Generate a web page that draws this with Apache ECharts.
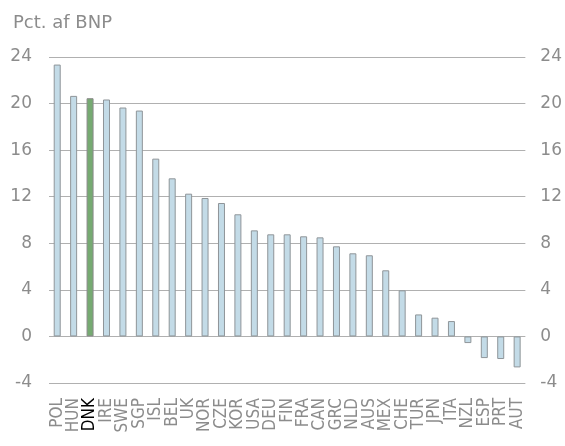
<!DOCTYPE html>
<html><head><meta charset="utf-8">
<script src="https://cdn.jsdelivr.net/npm/echarts@6/dist/echarts.min.js"></script>
<style>html,body{margin:0;padding:0;background:#fff}#c{width:565px;height:446px}</style>
</head><body><div id="c"></div>
<script>
var categories = ['POL','HUN','DNK','IRE','SWE','SGP','ISL','BEL','UK','NOR','CZE','KOR','USA','DEU','FIN','FRA','CAN','GRC','NLD','AUS','MEX','CHE','TUR','JPN','ITA','NZL','ESP','PRT','AUT'];
var values = [23.35,20.66,20.46,20.35,19.66,19.4,15.27,13.58,12.26,11.89,11.46,10.49,9.11,8.77,8.77,8.6,8.51,7.74,7.14,6.97,5.68,3.96,1.89,1.61,1.32,-0.57,-1.86,-1.94,-2.66];
var highlight = 'DNK';
var yTicks = [-4,0,4,8,12,16,20,24];
var unitLabel = 'Pct. af BNP';

var wideFont = 'DejaVu Sans, Liberation Sans, sans-serif';
var narrowFont = 'Liberation Sans Narrow, DejaVu Sans Condensed, Liberation Sans, sans-serif';
var grey = '#8c8c8c';
var chart = echarts.init(document.getElementById('c'));
var yAxisBase = {
  type: 'value', min: yTicks[0], max: yTicks[yTicks.length - 1], interval: yTicks[1] - yTicks[0],
  axisLine: {show: false}, axisTick: {show: false},
  splitLine: {show: true, lineStyle: {color: '#b0b0b0', width: 1}},
  axisLabel: {color: grey, fontSize: 17, fontFamily: wideFont}
};
chart.setOption({
  animation: false,
  title: {text: unitLabel, left: 8, top: 9, textStyle: {color: grey, fontSize: 18, fontWeight: 'normal', fontFamily: wideFont}},
  grid: {left: 49, right: 39, top: 57, bottom: 63, containLabel: false},
  xAxis: {
    type: 'category', data: categories,
    axisLine: {show: false, onZero: false}, axisTick: {show: false},
    axisLabel: {rotate: 90, interval: 0, margin: 15, fontSize: 17, fontFamily: narrowFont,
      color: function(v){ return v === highlight ? '#000' : grey; }
    }
  },
  yAxis: [
    Object.assign({}, yAxisBase, {position: 'left', axisLabel: Object.assign({}, yAxisBase.axisLabel, {margin: 17})}),
    Object.assign({}, yAxisBase, {position: 'right', splitLine: {show: false}, axisLabel: Object.assign({}, yAxisBase.axisLabel, {margin: 15})})
  ],
  series: [{
    type: 'bar', barWidth: 7,
    data: values.map(function(v, i){
      return {value: v, itemStyle: categories[i] === highlight ? {color: '#76aa72', borderColor: '#8a8a8a', borderWidth: 1} : {color: '#c3dbe7', borderColor: '#8f9599', borderWidth: 1}};
    })
  }]
});
</script></body></html>
